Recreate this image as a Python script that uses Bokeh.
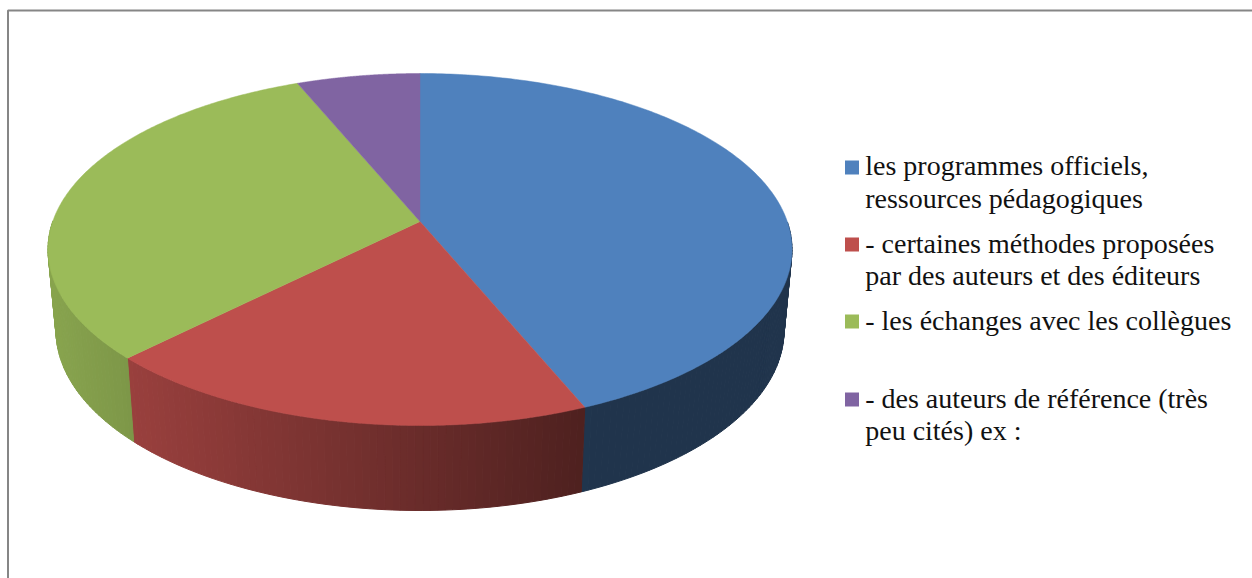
import numpy as np
from bokeh.core.properties import value
from bokeh.embed import file_html
from bokeh.models import ColumnDataSource, Range1d
from bokeh.plotting import figure
from bokeh.resources import INLINE

# --- data -----------------------------------------------------------------
categories = [
    "les programmes officiels,\nressources pédagogiques",
    "- certaines méthodes proposées\npar des auteurs et des éditeurs",
    "- les échanges avec les collègues",
    "- des auteurs de référence (très\npeu cités) ex :",
]
series_values = [7, 3, 5, 1]
slice_colors = ["#4F81BD", "#BE4F4C", "#9BBB59", "#8064A2"]

# --- layout (page pixels) ---------------------------------------------------
CX, TOP_CY, TOP_RX, TOP_RY = 419.5, 249, 372, 176
BOT_CY, BOT_RX, BOT_RY = 330, 364, 180
PERSP = 28 / 176
legend_square_y = [167, 244, 321, 399]
legend_text_y = [[165, 198], [243, 275], [320], [398, 430]]
FRAME = "#868686"
TEXT_PX = "28px"


def project(theta):
    """Clockwise angle from 12 o'clock -> point on a unit disc seen in perspective."""
    x, y = np.sin(theta), np.cos(theta)
    d = 1 + PERSP * y
    return x * np.sqrt(1 - PERSP ** 2) / d, (y + PERSP) / d


def shade(hex_color, f):
    rgb = [int(hex_color[i:i + 2], 16) for i in (1, 3, 5)]
    return "#%02x%02x%02x" % tuple(int(round(c * f)) for c in rgb)


def wall_factor(x):
    return float(np.clip(0.81 - (x - 127) * 0.000875, 0.40, 0.90))


p = figure(
    width=1252, height=578,
    x_range=Range1d(0, 1252), y_range=Range1d(578, 0),
    toolbar_location=None, output_backend="svg",
    x_axis_location=None, y_axis_location=None,
    min_border=0, outline_line_color=None,
    background_fill_color="white", border_fill_color="white",
    styles={"position": "absolute", "left": "0px", "top": "0px"},
)
p.grid.visible = False

# frame: only the top and left edges show
p.line([1252, 7.5, 7.5], [10, 10, 578], line_color=FRAME, line_width=2)

edges = 2 * np.pi * np.cumsum([0] + series_values) / sum(series_values)

# side wall, drawn as thin shaded strips along the rim
xs, ys, cols = [], [], []
for i, color in enumerate(slice_colors):
    n = max(2, int(np.degrees(edges[i + 1] - edges[i]) / 1.0))
    t = np.linspace(edges[i], edges[i + 1], n + 1)
    u, v = project(t)
    for j in range(n):
        if v[j] > 0.15 and v[j + 1] > 0.15:
            continue
        xa = [CX + TOP_RX * u[j], CX + TOP_RX * u[j + 1], CX + BOT_RX * u[j + 1], CX + BOT_RX * u[j]]
        ya = [TOP_CY - TOP_RY * v[j], TOP_CY - TOP_RY * v[j + 1], BOT_CY - BOT_RY * v[j + 1], BOT_CY - BOT_RY * v[j]]
        xs.append(xa)
        ys.append(ya)
        cols.append(shade(color, wall_factor(np.mean(xa))))
p.patches("xs", "ys", source=ColumnDataSource(dict(xs=xs, ys=ys, c=cols)),
          fill_color="c", line_color="c", line_width=1)

# top face
apex_x, apex_y = CX, TOP_CY - TOP_RY * PERSP
for i, color in enumerate(slice_colors):
    t = np.linspace(edges[i], edges[i + 1], 200)
    u, v = project(t)
    p.patch([apex_x, *(CX + TOP_RX * u)], [apex_y, *(TOP_CY - TOP_RY * v)],
            fill_color=color, line_color=color, line_width=0.5)

# legend
for label, color, sy, tys in zip(categories, slice_colors, legend_square_y, legend_text_y):
    p.rect([851.5], [sy], width=14, height=14, fill_color=color, line_color=None)
    for line, ty in zip(label.split("\n"), tys):
        p.text([864.7], [ty], text=[line], text_font=value("Liberation Serif"),
               text_font_size=TEXT_PX, text_baseline="alphabetic", text_align="left",
               text_color="#111111")

open("out.html", "w").write(file_html(p, INLINE))
